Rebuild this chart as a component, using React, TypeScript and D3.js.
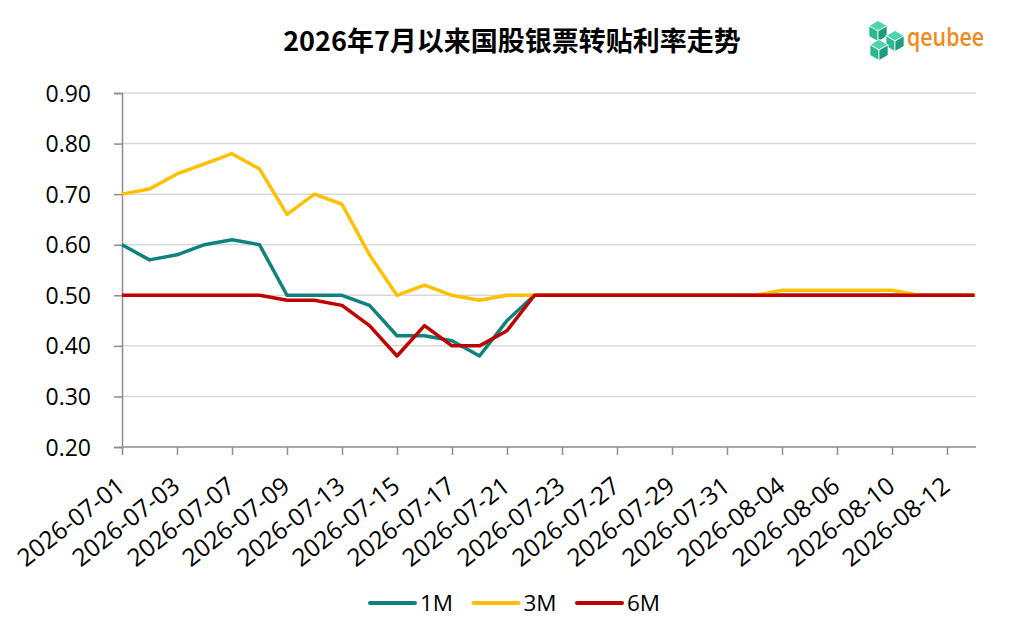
import React, { useEffect, useRef } from 'react'
import * as d3 from 'd3'

const dates = [
  '2026-07-01', '2026-07-02', '2026-07-03', '2026-07-06', '2026-07-07', '2026-07-08',
  '2026-07-09', '2026-07-10', '2026-07-13', '2026-07-14', '2026-07-15', '2026-07-16',
  '2026-07-17', '2026-07-20', '2026-07-21', '2026-07-22', '2026-07-23', '2026-07-24',
  '2026-07-27', '2026-07-28', '2026-07-29', '2026-07-30', '2026-07-31', '2026-08-03',
  '2026-08-04', '2026-08-05', '2026-08-06', '2026-08-07', '2026-08-10', '2026-08-11',
  '2026-08-12', '2026-08-13',
]

const rate1M = [
  0.60, 0.57, 0.58, 0.60, 0.61, 0.60, 0.50, 0.50, 0.50, 0.48, 0.42, 0.42,
  0.41, 0.38, 0.45, 0.50, 0.50, 0.50, 0.50, 0.50, 0.50, 0.50, 0.50, 0.50,
  0.50, 0.50, 0.50, 0.50, 0.50, 0.50, 0.50, 0.50,
]

const rate3M = [
  0.70, 0.71, 0.74, 0.76, 0.78, 0.75, 0.66, 0.70, 0.68, 0.58, 0.50, 0.52,
  0.50, 0.49, 0.50, 0.50, 0.50, 0.50, 0.50, 0.50, 0.50, 0.50, 0.50, 0.50,
  0.51, 0.51, 0.51, 0.51, 0.51, 0.50, 0.50, 0.50,
]

const rate6M = [
  0.50, 0.50, 0.50, 0.50, 0.50, 0.50, 0.49, 0.49, 0.48, 0.44, 0.38, 0.44,
  0.40, 0.40, 0.43, 0.50, 0.50, 0.50, 0.50, 0.50, 0.50, 0.50, 0.50, 0.50,
  0.50, 0.50, 0.50, 0.50, 0.50, 0.50, 0.50, 0.50,
]

const yTicks = [0.2, 0.3, 0.4, 0.5, 0.6, 0.7, 0.8, 0.9]
const seriesNames = ['1M', '3M', '6M']
const seriesColors = ['#0e827c', '#ffc000', '#c00000']
const title = '2026年7月以来国股银票转贴利率走势'

const W = 1024
const H = 639
const FONT = '"Open Sans", "Noto Sans", sans-serif'

const App: React.FC = () => {
  const svgRef = useRef<SVGSVGElement>(null)

  useEffect(() => {
    if (!svgRef.current) return
    const svg = d3.select(svgRef.current)
    svg.selectAll('*').remove()

    const left = 122
    const right = 976
    const top = 93
    const bottom = 447

    const x = d3.scalePoint<string>().domain(dates).range([left, 974.5])
    const y = d3.scaleLinear().domain([0.2, 0.9]).range([bottom, top])

    svg.append('rect').attr('width', W).attr('height', H).attr('fill', '#fff')

    // title
    svg.append('text')
      .attr('x', 512)
      .attr('y', 51)
      .attr('text-anchor', 'middle')
      .attr('font-family', '"Noto Sans CJK SC", sans-serif')
      .attr('font-weight', 700)
      .attr('font-size', 27)
      .attr('fill', '#000')
      .text(title)

    // gridlines
    svg.append('g')
      .selectAll('line')
      .data(yTicks.filter(d => d > 0.2))
      .enter()
      .append('line')
      .attr('x1', left)
      .attr('x2', right)
      .attr('y1', d => y(d))
      .attr('y2', d => y(d))
      .attr('stroke', '#d9d9d9')
      .attr('stroke-width', 1.5)

    // y axis
    const yAxis = svg.append('g').attr('transform', `translate(${left},0)`)
      .call(d3.axisLeft(y).tickValues(yTicks).tickFormat(d3.format('.2f')).tickSize(8).tickPadding(23))
    yAxis.select('.domain').attr('stroke', '#8c8c8c').attr('stroke-width', 1.5)
    yAxis.selectAll('.tick line').attr('stroke', '#8c8c8c').attr('stroke-width', 1.5)
    yAxis.selectAll('.tick text')
      .attr('font-family', FONT)
      .attr('font-size', 23)
      .attr('fill', '#000')
      .attr('dy', '0.35em')

    // x axis
    const xLabels = dates.filter((_, i) => i % 2 === 0)
    const xAxis = svg.append('g').attr('transform', `translate(0,${bottom})`)
      .call(d3.axisBottom(x).tickValues(xLabels).tickSize(8).tickSizeOuter(0))
    xAxis.select('.domain')
      .attr('d', `M${left},0H${right}`)
      .attr('stroke', '#8c8c8c')
      .attr('stroke-width', 1.5)
    xAxis.selectAll('.tick line').attr('stroke', '#8c8c8c').attr('stroke-width', 1.5)
    xAxis.selectAll('.tick text')
      .attr('font-family', FONT)
      .attr('font-size', 24.5)
      .attr('fill', '#000')
      .attr('text-anchor', 'end')
      .attr('y', 0)
      .attr('dy', 0)
      .attr('transform', 'translate(4,42) rotate(-38)')

    // series lines
    const allSeries = [rate1M, rate3M, rate6M]
    const line = d3.line<number>()
      .x((_, i) => x(dates[i]) as number)
      .y(d => y(d))

    allSeries.forEach((values, k) => {
      svg.append('path')
        .datum(values)
        .attr('fill', 'none')
        .attr('stroke', seriesColors[k])
        .attr('stroke-width', 3.5)
        .attr('stroke-linejoin', 'round')
        .attr('d', line)
    })

    // legend
    const legend = svg.append('g').attr('transform', 'translate(370,603)')
    seriesNames.forEach((name, k) => {
      const g = legend.append('g').attr('transform', `translate(${k * 103.5},0)`)
      g.append('line')
        .attr('x1', 0).attr('x2', 45)
        .attr('stroke', seriesColors[k])
        .attr('stroke-width', 4)
        .attr('stroke-linecap', 'round')
      g.append('text')
        .attr('x', 50)
        .attr('y', 8)
        .attr('font-family', FONT)
        .attr('font-size', 22.5)
        .attr('fill', '#000')
        .text(name)
    })

    // logo
    const logo = svg.append('g')
    const cubes = [
      { cx: 878, cy: 31 },
      { cx: 895, cy: 41 },
      { cx: 879, cy: 50 },
    ]
    const r = 10.5
    cubes.forEach(({ cx, cy }) => {
      const p = (a: number) => [cx + r * Math.cos((a * Math.PI) / 180), cy + r * Math.sin((a * Math.PI) / 180)]
      const c = [cx, cy]
      const faces = [
        { pts: [c, p(-150), p(-90), p(-30)], fill: '#4fd3ab' },
        { pts: [c, p(-150), p(150), p(90)], fill: '#2db891' },
        { pts: [c, p(-30), p(30), p(90)], fill: '#1e9d7d' },
      ]
      faces.forEach(f => {
        logo.append('polygon')
          .attr('points', f.pts.map(q => q.join(',')).join(' '))
          .attr('fill', f.fill)
          .attr('stroke', '#fff')
          .attr('stroke-width', 0.8)
      })
    })
    logo.append('text')
      .attr('x', 907)
      .attr('y', 46)
      .attr('font-family', '"Open Sans", sans-serif')
      .attr('font-weight', 600)
      .attr('font-size', 26)
      .attr('textLength', 77)
      .attr('lengthAdjust', 'spacingAndGlyphs')
      .attr('fill', '#f08a1c')
      .text('qeubee')
  }, [])

  return (
    <svg
      ref={svgRef}
      width={W}
      height={H}
      style={{ position: 'absolute', left: 0, top: 0, display: 'block' }}
    />
  )
}

export default App
